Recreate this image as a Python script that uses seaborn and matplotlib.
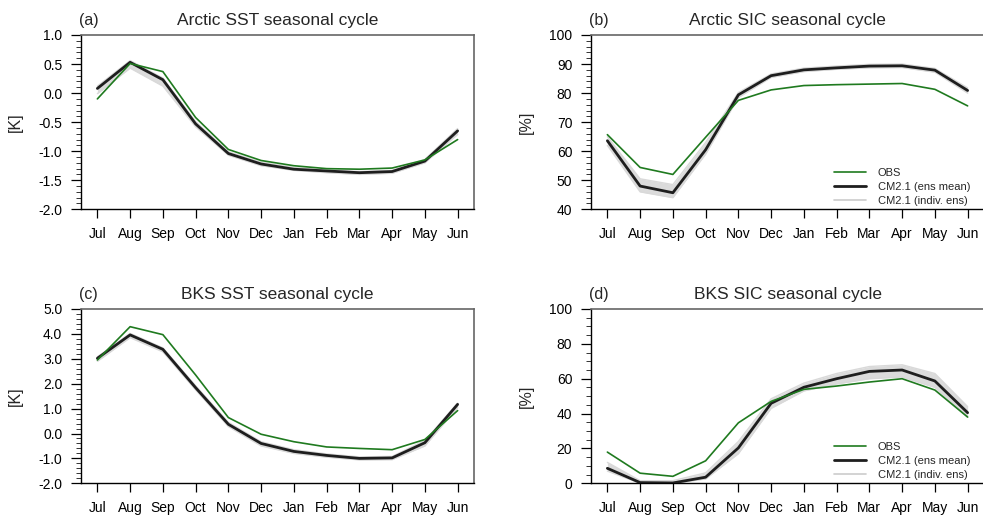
import numpy as np
import pandas as pd
import matplotlib
matplotlib.use("Agg")
import matplotlib.pyplot as plt
from matplotlib.ticker import MultipleLocator, FormatStrFormatter
from matplotlib.lines import Line2D
import seaborn as sns

months = ["Jul", "Aug", "Sep", "Oct", "Nov", "Dec", "Jan", "Feb", "Mar", "Apr", "May", "Jun"]

# (a) Arctic SST [K]
obs_a = [-0.10, 0.51, 0.37, -0.42, -0.97, -1.16, -1.25, -1.30, -1.31, -1.29, -1.15, -0.80]
mean_a = [0.08, 0.53, 0.23, -0.53, -1.04, -1.22, -1.31, -1.34, -1.37, -1.35, -1.17, -0.65]
lo_a = [-0.01, 0.43, 0.12, -0.58, -1.07, -1.25, -1.33, -1.37, -1.40, -1.38, -1.20, -0.71]
hi_a = [0.12, 0.56, 0.26, -0.49, -1.01, -1.19, -1.28, -1.32, -1.35, -1.33, -1.14, -0.61]

# (b) Arctic SIC [%]
obs_b = [65.7, 54.4, 52.0, 64.8, 77.5, 81.1, 82.6, 82.9, 83.1, 83.3, 81.3, 75.6]
mean_b = [63.6, 48.0, 45.7, 60.5, 79.4, 86.0, 88.0, 88.7, 89.3, 89.4, 87.9, 80.9]
lo_b = [62.0, 46.0, 44.0, 59.0, 78.5, 85.4, 87.4, 88.2, 88.7, 88.8, 87.2, 80.0]
hi_b = [65.0, 50.5, 48.5, 63.0, 80.2, 86.6, 88.6, 89.3, 89.9, 90.0, 88.5, 81.8]

# (c) BKS SST [K]
obs_c = [2.95, 4.29, 3.97, 2.35, 0.64, -0.03, -0.33, -0.54, -0.60, -0.65, -0.24, 0.92]
mean_c = [3.02, 3.96, 3.38, 1.84, 0.37, -0.40, -0.72, -0.88, -1.00, -0.98, -0.37, 1.17]
lo_c = [2.90, 3.85, 3.28, 1.75, 0.28, -0.50, -0.80, -0.95, -1.06, -1.05, -0.50, 1.05]
hi_c = [3.08, 4.02, 3.44, 1.92, 0.45, -0.33, -0.65, -0.82, -0.94, -0.92, -0.28, 1.22]

# (d) BKS SIC [%]
obs_d = [17.9, 5.8, 4.0, 12.9, 34.7, 47.0, 53.9, 55.8, 58.1, 60.0, 53.5, 38.0]
mean_d = [8.6, 0.4, 0.2, 3.5, 20.3, 45.9, 55.1, 60.0, 64.2, 65.0, 58.7, 40.5]
lo_d = [7.0, 0.0, 0.0, 2.5, 17.0, 43.0, 53.0, 57.0, 60.0, 61.0, 55.0, 38.0]
hi_d = [12.0, 1.5, 1.5, 6.0, 24.0, 48.5, 57.5, 63.0, 67.0, 68.0, 63.0, 44.0]

sns.set_style("ticks")
plt.rcParams["font.family"] = ["Liberation Sans", "DejaVu Sans"]
plt.rcParams["axes.unicode_minus"] = False

OBS_COLOR = "#1f7a1f"
MEAN_COLOR = "#1e1e1e"
ENS_COLOR = "#d2d2d2"

W, H = 983, 519
fig = plt.figure(figsize=(W / 100, H / 100), dpi=100)


def px_axes(left, top, right, bottom):
    return fig.add_axes([left / W, 1 - bottom / H, (right - left) / W, (bottom - top) / H])


panels = [
    dict(box=(81, 35, 474, 209.3), tag="(a)", title="Arctic SST seasonal cycle", ylabel="[K]",
         obs=obs_a, mean=mean_a, lo=lo_a, hi=hi_a, ylim=(-2.0, 1.0), major=0.5, minor=0.1,
         fmt="%.1f", legend=False),
    dict(box=(591, 35, 984, 209.3), tag="(b)", title="Arctic SIC seasonal cycle", ylabel="[%]",
         obs=obs_b, mean=mean_b, lo=lo_b, hi=hi_b, ylim=(40, 100), major=10, minor=2,
         fmt="%d", legend=True),
    dict(box=(81, 309, 474, 483.3), tag="(c)", title="BKS SST seasonal cycle", ylabel="[K]",
         obs=obs_c, mean=mean_c, lo=lo_c, hi=hi_c, ylim=(-2.0, 5.0), major=1.0, minor=0.2,
         fmt="%.1f", legend=False),
    dict(box=(591, 309, 984, 483.3), tag="(d)", title="BKS SIC seasonal cycle", ylabel="[%]",
         obs=obs_d, mean=mean_d, lo=lo_d, hi=hi_d, ylim=(0, 100), major=20, minor=5,
         fmt="%d", legend=True),
]

x = np.arange(len(months))

for p in panels:
    ax = px_axes(*p["box"])
    df = pd.DataFrame({"month": x, "obs": p["obs"], "mean": p["mean"],
                       "lo": p["lo"], "hi": p["hi"]})

    # ensemble spread from the individual members
    ax.fill_between(df["month"], df["lo"], df["hi"], color=ENS_COLOR, alpha=0.8, lw=0, zorder=1)
    sns.lineplot(data=df, x="month", y="lo", ax=ax, color="#d9d9d9", lw=1.0, zorder=2)
    sns.lineplot(data=df, x="month", y="hi", ax=ax, color="#d9d9d9", lw=1.0, zorder=2)
    sns.lineplot(data=df, x="month", y="mean", ax=ax, color=MEAN_COLOR, lw=2.0, zorder=4)
    sns.lineplot(data=df, x="month", y="obs", ax=ax, color=OBS_COLOR, lw=1.2, zorder=5)

    ax.set_xlim(-0.5, 11.5)
    ax.set_ylim(*p["ylim"])
    ax.set_xticks(x)
    ax.set_xticklabels(months)
    ax.yaxis.set_major_locator(MultipleLocator(p["major"]))
    ax.yaxis.set_minor_locator(MultipleLocator(p["minor"]))
    ax.yaxis.set_major_formatter(FormatStrFormatter(p["fmt"]))
    ax.set_xlabel("")
    ax.set_ylabel(p["ylabel"], fontsize=11.5, labelpad=11)

    ax.tick_params(axis="x", which="major", direction="out", length=6.5, width=0.9,
                   labelsize=10, pad=6, colors="black")
    ax.tick_params(axis="y", which="major", direction="out", length=7.0, width=0.9,
                   labelsize=10, pad=6.5, colors="black")
    ax.tick_params(axis="y", which="minor", direction="out", length=3.5, width=0.7,
                   colors="#333333")
    ax.tick_params(axis="x", which="minor", bottom=False)

    for side in ("left", "bottom"):
        ax.spines[side].set_color("black")
        ax.spines[side].set_linewidth(1.0)
    for side in ("top", "right"):
        ax.spines[side].set_color("#666666")
        ax.spines[side].set_linewidth(1.2)

    ax.set_title(p["title"], fontsize=12.5, pad=7)
    ax.text(-0.005, 1.0 + 7.5 / (p["box"][3] - p["box"][1]), p["tag"], transform=ax.transAxes,
            fontsize=11.5, ha="left", va="bottom")

    if p["legend"]:
        handles = [
            Line2D([], [], color=OBS_COLOR, lw=1.2),
            Line2D([], [], color=MEAN_COLOR, lw=2.0),
            Line2D([], [], color="#cccccc", lw=1.2),
        ]
        ax.legend(handles, ["OBS", "CM2.1 (ens mean)", "CM2.1 (indiv. ens)"],
                  loc="upper left", bbox_to_anchor=(0.619, 0.235), frameon=False,
                  fontsize=8, handlelength=2.9, handletextpad=1.0, labelspacing=0.35,
                  borderpad=0, borderaxespad=0)

fig.savefig("out.png", dpi=100)
